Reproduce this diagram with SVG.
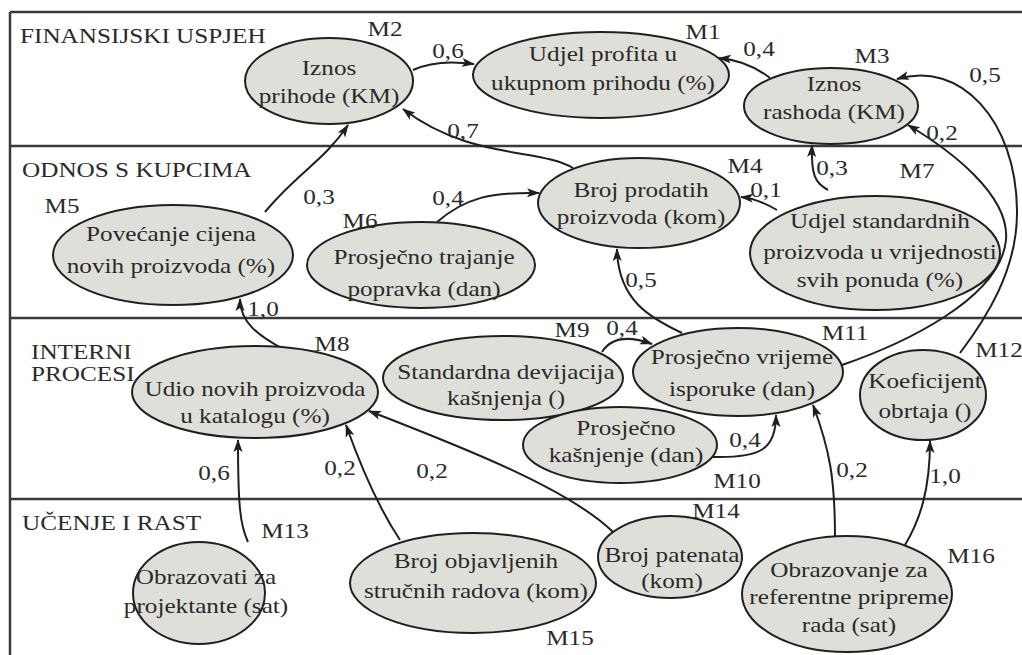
<svg xmlns="http://www.w3.org/2000/svg" width="1022" height="655" viewBox="0 0 1022 655">
<defs>
<style>
.t{font-family:'Liberation Serif','DejaVu Serif',serif;font-size:21px;fill:#2a2a2a}
.c{text-anchor:middle}
.node ellipse{fill:#dfdfda;stroke:#1f1f1f;stroke-width:2}
#edges path{fill:none;stroke:#1f1f1f;stroke-width:2;marker-end:url(#ah)}
.band{stroke:#3a3a3a;stroke-width:2.5;fill:none}
</style>
<marker id="ah" markerWidth="13" markerHeight="10" refX="12" refY="5" orient="auto" markerUnits="userSpaceOnUse">
<path d="M0,0.5 L13,5 L0,9.5 L3,5 z" fill="#1f1f1f"/>
</marker>
</defs>
<rect x="0" y="0" width="1022" height="655" fill="#ffffff"/>
<g id="frame" font-family="Liberation Serif, DejaVu Serif, serif">
<path class="band" d="M10,12 H1022 M10,12 V655 M10,146 H1022 M10,318 H1022 M10,499 H1022"/>
<text class="t" transform="matrix(1.2 0 0 1 20 0)"><tspan x="0" y="43">FINANSIJSKI USPJEH</tspan></text>
<text class="t" transform="matrix(1.2 0 0 1 22 0)"><tspan x="0" y="177">ODNOS S KUPCIMA</tspan></text>
<text class="t" transform="matrix(1.2 0 0 1 31 0)"><tspan x="0" y="359">INTERNI</tspan><tspan x="0" y="381">PROCESI</tspan></text>
<text class="t" transform="matrix(1.2 0 0 1 22 0)"><tspan x="0" y="530">UČENJE I RAST</tspan></text>
</g>
<g id="edges">
<path d="M413,70 C430,62 452,61 474,64"/>
<path d="M770,78 C757,68 740,60 719,58"/>
<path d="M573,168 C540,148 470,160 403,109"/>
<path d="M265,212 C295,175 325,160 348,125"/>
<path d="M437,222 C465,198 490,192 539,193"/>
<path d="M777,210 C765,203 752,198 741,197"/>
<path d="M828,190 C815,183 811,175 812,145"/>
<path d="M285,350 C258,336 240,322 240,299"/>
<path d="M602,352 C612,336 630,336 652,344"/>
<path d="M713,457 C760,458 776,450 776,415"/>
<path d="M682,333 C650,318 618,300 617,249"/>
<path d="M842,365 C900,345 1000,300 1006,240 C1010,195 950,150 908,125"/>
<path d="M960,353 C985,320 1018,270 1017,210 C1016,120 960,60 897,79"/>
<path d="M248,542 C240,525 238,505 238,440"/>
<path d="M400,540 C380,510 362,470 346,425"/>
<path d="M613,532 C570,490 470,450 369,411"/>
<path d="M835,537 C835,480 830,450 813,405"/>
<path d="M905,545 C920,520 930,490 930,441"/>
</g>
<g id="edge-labels" font-family="Liberation Serif, DejaVu Serif, serif">
<text class="t c" transform="matrix(1.2 0 0 1 448 0)"><tspan x="0" y="58">0,6</tspan></text>
<text class="t c" transform="matrix(1.2 0 0 1 759 0)"><tspan x="0" y="56">0,4</tspan></text>
<text class="t c" transform="matrix(1.2 0 0 1 463 0)"><tspan x="0" y="138">0,7</tspan></text>
<text class="t c" transform="matrix(1.2 0 0 1 985 0)"><tspan x="0" y="82">0,5</tspan></text>
<text class="t c" transform="matrix(1.2 0 0 1 942 0)"><tspan x="0" y="140">0,2</tspan></text>
<text class="t c" transform="matrix(1.2 0 0 1 319 0)"><tspan x="0" y="204">0,3</tspan></text>
<text class="t c" transform="matrix(1.2 0 0 1 448 0)"><tspan x="0" y="205">0,4</tspan></text>
<text class="t c" transform="matrix(1.2 0 0 1 766 0)"><tspan x="0" y="197">0,1</tspan></text>
<text class="t c" transform="matrix(1.2 0 0 1 832 0)"><tspan x="0" y="175">0,3</tspan></text>
<text class="t c" transform="matrix(1.2 0 0 1 641 0)"><tspan x="0" y="287">0,5</tspan></text>
<text class="t c" transform="matrix(1.2 0 0 1 263 0)"><tspan x="0" y="316">1,0</tspan></text>
<text class="t c" transform="matrix(1.2 0 0 1 622 0)"><tspan x="0" y="335">0,4</tspan></text>
<text class="t c" transform="matrix(1.2 0 0 1 745 0)"><tspan x="0" y="447">0,4</tspan></text>
<text class="t c" transform="matrix(1.2 0 0 1 852 0)"><tspan x="0" y="477">0,2</tspan></text>
<text class="t c" transform="matrix(1.2 0 0 1 945 0)"><tspan x="0" y="483">1,0</tspan></text>
<text class="t c" transform="matrix(1.2 0 0 1 214 0)"><tspan x="0" y="480">0,6</tspan></text>
<text class="t c" transform="matrix(1.2 0 0 1 340 0)"><tspan x="0" y="475">0,2</tspan></text>
<text class="t c" transform="matrix(1.2 0 0 1 432 0)"><tspan x="0" y="478">0,2</tspan></text>
</g>
<g id="nodes" font-family="Liberation Serif, DejaVu Serif, serif">
<g id="M1" class="node">
<ellipse cx="601" cy="75" rx="128" ry="43"/>
<text class="t c" transform="matrix(1.2 0 0 1 603 0)"><tspan x="0" y="61">Udjel profita u</tspan><tspan x="0" y="90">ukupnom prihodu (%)</tspan></text>
<text class="t c" transform="matrix(1.2 0 0 1 703 0)"><tspan x="0" y="39">M1</tspan></text>
</g>
<g id="M2" class="node">
<ellipse cx="329" cy="81" rx="84" ry="43"/>
<text class="t c" transform="matrix(1.2 0 0 1 329 0)"><tspan x="0" y="75">Iznos</tspan><tspan x="0" y="103">prihode (KM)</tspan></text>
<text class="t c" transform="matrix(1.2 0 0 1 385 0)"><tspan x="0" y="36">M2</tspan></text>
</g>
<g id="M3" class="node">
<ellipse cx="831" cy="106" rx="87" ry="38"/>
<text class="t c" transform="matrix(1.2 0 0 1 834 0)"><tspan x="0" y="91">Iznos</tspan><tspan x="0" y="119">rashoda (KM)</tspan></text>
<text class="t c" transform="matrix(1.2 0 0 1 872 0)"><tspan x="0" y="63">M3</tspan></text>
</g>
<g id="M4" class="node">
<ellipse cx="639" cy="203" rx="101" ry="45"/>
<text class="t c" transform="matrix(1.2 0 0 1 641 0)"><tspan x="0" y="197">Broj prodatih</tspan><tspan x="0" y="224">proizvoda (kom)</tspan></text>
<text class="t c" transform="matrix(1.2 0 0 1 745 0)"><tspan x="0" y="173">M4</tspan></text>
</g>
<g id="M5" class="node">
<ellipse cx="173" cy="255" rx="120" ry="50"/>
<text class="t c" transform="matrix(1.2 0 0 1 171 0)"><tspan x="0" y="241">Povećanje cijena</tspan><tspan x="0" y="273">novih proizvoda (%)</tspan></text>
<text class="t c" transform="matrix(1.2 0 0 1 62 0)"><tspan x="0" y="213">M5</tspan></text>
</g>
<g id="M6" class="node">
<ellipse cx="421" cy="265" rx="114" ry="43"/>
<text class="t c" transform="matrix(1.2 0 0 1 424 0)"><tspan x="0" y="264">Prosječno trajanje</tspan><tspan x="0" y="296">popravka (dan)</tspan></text>
<text class="t c" transform="matrix(1.2 0 0 1 360 0)"><tspan x="0" y="228">M6</tspan></text>
</g>
<g id="M7" class="node">
<ellipse cx="875" cy="253" rx="125" ry="57"/>
<text class="t c" transform="matrix(1.2 0 0 1 880 0)"><tspan x="0" y="228">Udjel standardnih</tspan><tspan x="0" y="259">proizvoda u vrijednosti</tspan><tspan x="0" y="287">svih ponuda (%)</tspan></text>
<text class="t c" transform="matrix(1.2 0 0 1 917 0)"><tspan x="0" y="178">M7</tspan></text>
</g>
<g id="M8" class="node">
<ellipse cx="255" cy="392" rx="123" ry="46"/>
<text class="t c" transform="matrix(1.2 0 0 1 255 0)"><tspan x="0" y="396">Udio novih proizvoda</tspan><tspan x="0" y="423">u katalogu (%)</tspan></text>
<text class="t c" transform="matrix(1.2 0 0 1 332 0)"><tspan x="0" y="351">M8</tspan></text>
</g>
<g id="M9" class="node">
<ellipse cx="503" cy="378" rx="120" ry="42"/>
<text class="t c" transform="matrix(1.2 0 0 1 506 0)"><tspan x="0" y="379">Standardna devijacija</tspan><tspan x="0" y="405">kašnjenja ()</tspan></text>
<text class="t c" transform="matrix(1.2 0 0 1 572 0)"><tspan x="0" y="337">M9</tspan></text>
</g>
<g id="M10" class="node">
<ellipse cx="620" cy="445" rx="97" ry="38"/>
<text class="t c" transform="matrix(1.2 0 0 1 626 0)"><tspan x="0" y="435">Prosječno</tspan><tspan x="0" y="462">kašnjenje (dan)</tspan></text>
<text class="t c" transform="matrix(1.2 0 0 1 737 0)"><tspan x="0" y="488">M10</tspan></text>
</g>
<g id="M11" class="node">
<ellipse cx="738" cy="372" rx="105" ry="44"/>
<text class="t c" transform="matrix(1.2 0 0 1 742 0)"><tspan x="0" y="364">Prosječno vrijeme</tspan><tspan x="0" y="396">isporuke (dan)</tspan></text>
<text class="t c" transform="matrix(1.2 0 0 1 845 0)"><tspan x="0" y="340">M11</tspan></text>
</g>
<g id="M12" class="node">
<ellipse cx="923" cy="395" rx="63" ry="45"/>
<text class="t c" transform="matrix(1.2 0 0 1 925 0)"><tspan x="0" y="388">Koeficijent</tspan><tspan x="0" y="418">obrtaja ()</tspan></text>
<text class="t c" transform="matrix(1.2 0 0 1 999 0)"><tspan x="0" y="357">M12</tspan></text>
</g>
<g id="M13" class="node">
<ellipse cx="199" cy="593" rx="66" ry="51"/>
<text class="t c" transform="matrix(1.2 0 0 1 206 0)"><tspan x="0" y="584">Obrazovati za</tspan><tspan x="0" y="613">projektante (sat)</tspan></text>
<text class="t c" transform="matrix(1.2 0 0 1 285 0)"><tspan x="0" y="538">M13</tspan></text>
</g>
<g id="M14" class="node">
<ellipse cx="670" cy="557" rx="72" ry="41"/>
<text class="t c" transform="matrix(1.2 0 0 1 672 0)"><tspan x="0" y="562">Broj patenata</tspan><tspan x="0" y="588">(kom)</tspan></text>
<text class="t c" transform="matrix(1.2 0 0 1 716 0)"><tspan x="0" y="518">M14</tspan></text>
</g>
<g id="M15" class="node">
<ellipse cx="473" cy="583" rx="123" ry="50"/>
<text class="t c" transform="matrix(1.2 0 0 1 476 0)"><tspan x="0" y="568">Broj objavljenih</tspan><tspan x="0" y="598">stručnih radova (kom)</tspan></text>
<text class="t c" transform="matrix(1.2 0 0 1 570 0)"><tspan x="0" y="645">M15</tspan></text>
</g>
<g id="M16" class="node">
<ellipse cx="847" cy="594" rx="105" ry="58"/>
<text class="t c" transform="matrix(1.2 0 0 1 849 0)"><tspan x="0" y="577">Obrazovanje za</tspan><tspan x="0" y="604">referentne pripreme</tspan><tspan x="0" y="632">rada (sat)</tspan></text>
<text class="t c" transform="matrix(1.2 0 0 1 971 0)"><tspan x="0" y="563">M16</tspan></text>
</g>
</g>
</svg>
